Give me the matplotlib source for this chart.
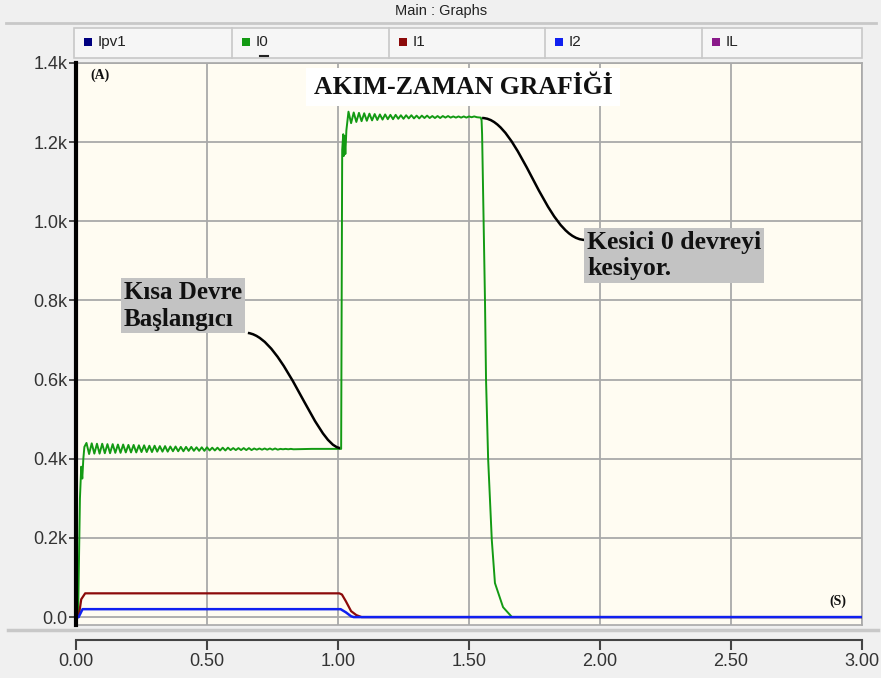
import numpy as np
import matplotlib
matplotlib.use("Agg")
import matplotlib.pyplot as plt
from matplotlib.path import Path
from matplotlib.patches import PathPatch, Rectangle
from matplotlib.lines import Line2D

# ---- data (time in s, current in A) ----
x_ticks = [0.0, 0.5, 1.0, 1.5, 2.0, 2.5, 3.0]
x_labels = ["0.00", "0.50", "1.00", "1.50", "2.00", "2.50", "3.00"]
y_ticks = [0, 200, 400, 600, 800, 1000, 1200, 1400]
y_labels = ["0.0", "0.2k", "0.4k", "0.6k", "0.8k", "1.0k", "1.2k", "1.4k"]

series_names = ["Ipv1", "I0", "I1", "I2", "IL"]
series_colors = ["#000080", "#139a13", "#8c0a0a", "#1020f0", "#8a1a8a"]

# I0 - start-up
i0_start_t = [0.0, 0.008, 0.015, 0.020, 0.024, 0.028, 0.032]
i0_start_v = [0, 0, 300, 380, 350, 400, 430]
# I0 - ripple before the fault (peaks / troughs)
i0_p1_t = [0.04, 0.06, 0.08, 0.10, 0.12, 0.14, 0.16, 0.18, 0.20, 0.22,
           0.24, 0.26, 0.28, 0.30, 0.32, 0.34, 0.36, 0.38, 0.40, 0.42,
           0.44, 0.46, 0.48, 0.50, 0.52, 0.54, 0.56, 0.58, 0.60, 0.62,
           0.64, 0.66, 0.68, 0.70, 0.72, 0.74, 0.76, 0.78, 0.80, 0.82]
i0_p1_v = [440, 439, 438, 438, 437, 437, 436, 436, 435, 435,
           434, 434, 433, 433, 432, 432, 431, 431, 430, 430,
           430, 429, 429, 429, 428, 428, 428, 428, 427, 427,
           427, 427, 426, 426, 426, 426, 426, 425, 425, 425]
i0_t1_t = [0.05, 0.07, 0.09, 0.11, 0.13, 0.15, 0.17, 0.19, 0.21, 0.23,
           0.25, 0.27, 0.29, 0.31, 0.33, 0.35, 0.37, 0.39, 0.41, 0.43,
           0.45, 0.47, 0.49, 0.51, 0.53, 0.55, 0.57, 0.59, 0.61, 0.63,
           0.65, 0.67, 0.69, 0.71, 0.73, 0.75, 0.77, 0.79, 0.81, 0.83]
i0_t1_v = [412, 413, 413, 414, 414, 415, 415, 416, 416, 416,
           417, 417, 417, 418, 418, 418, 419, 419, 419, 420,
           420, 420, 420, 421, 421, 421, 421, 422, 422, 422,
           422, 422, 423, 423, 423, 423, 423, 424, 424, 424]
# I0 - fault onset
i0_rise_t = [0.90, 1.012, 1.016, 1.020, 1.022, 1.025, 1.028, 1.032]
i0_rise_v = [425, 425, 1180, 1220, 1165, 1215, 1170, 1230]
# I0 - ripple during the fault
i0_p2_t = [1.04, 1.06, 1.08, 1.10, 1.12, 1.14, 1.16, 1.18, 1.20, 1.22,
           1.24, 1.26, 1.28, 1.30, 1.32, 1.34, 1.36, 1.38, 1.40, 1.42,
           1.44, 1.46, 1.48, 1.50, 1.52]
i0_p2_v = [1277, 1275, 1274, 1273, 1272, 1271, 1270, 1270, 1269, 1269,
           1268, 1268, 1268, 1267, 1267, 1267, 1266, 1266, 1266, 1266,
           1265, 1265, 1265, 1265, 1265]
i0_t2_t = [1.05, 1.07, 1.09, 1.11, 1.13, 1.15, 1.17, 1.19, 1.21, 1.23,
           1.25, 1.27, 1.29, 1.31, 1.33, 1.35, 1.37, 1.39, 1.41, 1.43,
           1.45, 1.47, 1.49, 1.51, 1.53]
i0_t2_v = [1248, 1251, 1253, 1254, 1255, 1256, 1257, 1258, 1258, 1259,
           1259, 1260, 1260, 1260, 1261, 1261, 1261, 1261, 1262, 1262,
           1262, 1262, 1262, 1263, 1263]
# I0 - breaker opens
i0_fall_t = [1.545, 1.548, 1.550, 1.555, 1.561, 1.565, 1.573, 1.587, 1.599, 1.630, 1.664, 3.0]
i0_fall_v = [1262, 1255, 1220, 1030, 800, 600, 400, 195, 86, 25, 0, 0]

i1_t = [0.0, 0.010, 0.020, 0.035, 1.005, 1.015, 1.030, 1.050, 1.070, 1.090, 3.0]
i1_v = [0, 0, 45, 60, 60, 57, 40, 15, 5, 0, 0]

i2_t = [0.0, 0.010, 0.025, 1.010, 1.030, 1.050, 1.060, 3.0]
i2_v = [0, 0, 20, 20, 12, 2, 0, 0]

# annotations: text, text corner (t, I), curve start / ctrl1 / ctrl2 / end
ann_fault = "Kısa Devre\nBaşlangıcı"
ann_fault_xy = (0.183, 850)
ann_fault_curve = [(0.656, 718), (0.798, 705), (0.912, 435), (1.008, 427)]
ann_break = "Kesici 0 devreyi\nkesiyor."
ann_break_xy = (1.950, 976)
ann_break_curve = [(1.550, 1261), (1.695, 1261), (1.790, 953), (1.943, 953)]

# ---- figure ----
W, H = 881, 678
fig = plt.figure(figsize=(W / 100, H / 100), dpi=100, facecolor="#f0f0f0")


def fx(px):
    return px / W


def fy(py):
    return 1 - py / H


ax = fig.add_axes([fx(76), fy(625), fx(862) - fx(76), fy(63) - fy(625)])
ax.set_facecolor("#fffcf2")
ax.set_xlim(0, 3)
ax.set_ylim(-20, 1400)
ax.set_xticks(x_ticks)
ax.tick_params(axis="x", length=0, labelbottom=False)
ax.set_yticks(y_ticks)
ax.set_yticklabels(y_labels, fontsize=13, color="#333333", family="Liberation Sans")
ax.tick_params(axis="y", length=5, width=1.2, color="#333333", pad=1)
ax.grid(color="#a9a9a9", lw=1.3)
ax.set_axisbelow(True)
for s in ["top", "right", "bottom"]:
    ax.spines[s].set_color("#a9a9a9")
    ax.spines[s].set_linewidth(1.2)
ax.spines["left"].set_color("black")
ax.spines["left"].set_linewidth(3)
ax.spines["left"].set_zorder(5)

# I0 assembled from the typed pieces
rip1_t = np.column_stack([i0_p1_t, i0_t1_t]).ravel()
rip1_v = np.column_stack([i0_p1_v, i0_t1_v]).ravel()
rip2_t = np.column_stack([i0_p2_t, i0_t2_t]).ravel()
rip2_v = np.column_stack([i0_p2_v, i0_t2_v]).ravel()
i0_t = np.concatenate([i0_start_t, rip1_t, i0_rise_t, rip2_t, i0_fall_t])
i0_v = np.concatenate([i0_start_v, rip1_v, i0_rise_v, rip2_v, i0_fall_v])

ax.plot(i0_t, i0_v, color=series_colors[1], lw=1.4, zorder=3)
ax.plot(i1_t, i1_v, color=series_colors[2], lw=1.6, zorder=3)
ax.plot(i2_t, i2_v, color=series_colors[3], lw=1.8, zorder=4)

# annotation curves
for pts in [ann_fault_curve, ann_break_curve]:
    path = Path(pts, [Path.MOVETO, Path.CURVE4, Path.CURVE4, Path.CURVE4])
    ax.add_patch(PathPatch(path, fc="none", ec="black", lw=1.8, zorder=6))

box = dict(boxstyle="square,pad=0.1", fc="#c3c3c3", ec="none")
ax.text(*ann_fault_xy, ann_fault, ha="left", va="top", fontsize=18, fontweight="bold",
        family="Liberation Serif", color="#111111", linespacing=1.22, bbox=box, zorder=7)
ax.text(*ann_break_xy, ann_break, ha="left", va="top", fontsize=18.5, fontweight="bold",
        family="Liberation Serif", color="#111111", linespacing=1.18, bbox=box, zorder=7)

ax.text(1.477, 1339, "AKIM-ZAMAN GRAFİĞİ", ha="center", va="center", fontsize=18.5,
        fontweight="bold", family="Liberation Serif", color="#111111",
        bbox=dict(boxstyle="square,pad=0.3", fc="white", ec="none"), zorder=7)
ax.text(0.053, 1370, "(A)", ha="left", va="center", fontsize=10, fontweight="bold",
        family="Liberation Serif", color="#111111", zorder=7)
ax.text(2.908, 40, "(S)", ha="center", va="center", fontsize=10, fontweight="bold",
        family="Liberation Serif", color="#111111", zorder=7)

# separate x axis panel
ax2 = fig.add_axes([fx(76), fy(640), fx(862) - fx(76), 0.0001])
ax2.patch.set_visible(False)
ax2.set_xlim(0, 3)
ax2.set_yticks([])
ax2.set_xticks(x_ticks)
ax2.set_xticklabels(x_labels, fontsize=13, color="#333333", family="Liberation Sans")
ax2.tick_params(axis="x", length=7, width=1.5, color="#444444", pad=2)
for s in ["top", "left", "right"]:
    ax2.spines[s].set_visible(False)
ax2.spines["bottom"].set_color("#444444")
ax2.spines["bottom"].set_linewidth(1.5)

# separator between plot and x axis panel
fig.add_artist(Line2D([fx(8), fx(878)], [fy(630), fy(630)], color="#c8c8c8", lw=2.5))

# title bar
fig.text(fx(441), fy(11), "Main : Graphs", ha="center", va="center", fontsize=10.5,
         family="Liberation Sans", color="#222222")
fig.add_artist(Line2D([fx(6), fx(876)], [fy(23), fy(23)], color="#c8c8c8", lw=2))

# legend header row
fig.add_artist(Rectangle((fx(74), fy(58)), fx(862) - fx(74), fy(28) - fy(58),
                         transform=fig.transFigure, fc="#f6f6f6", ec="#c8c8c8", lw=1.2))
cell_left = [74, 232, 389, 545, 702]
for i, (name, col) in enumerate(zip(series_names, series_colors)):
    x0 = cell_left[i]
    if i > 0:
        fig.add_artist(Line2D([fx(x0), fx(x0)], [fy(28), fy(58)], color="#c8c8c8", lw=1.2))
    fig.add_artist(Rectangle((fx(x0 + 10), fy(46)), fx(8), fx(8) * W / H,
                             transform=fig.transFigure, fc=col, ec="none"))
    fig.text(fx(x0 + 24), fy(42), name, ha="left", va="center", fontsize=11,
             family="Liberation Sans", color="#222222")
# underline of the selected trace name
fig.add_artist(Line2D([fx(260), fx(268)], [fy(56), fy(56)], color="#222222", lw=1.5))

fig.savefig("out.png", dpi=100, facecolor=fig.get_facecolor())
